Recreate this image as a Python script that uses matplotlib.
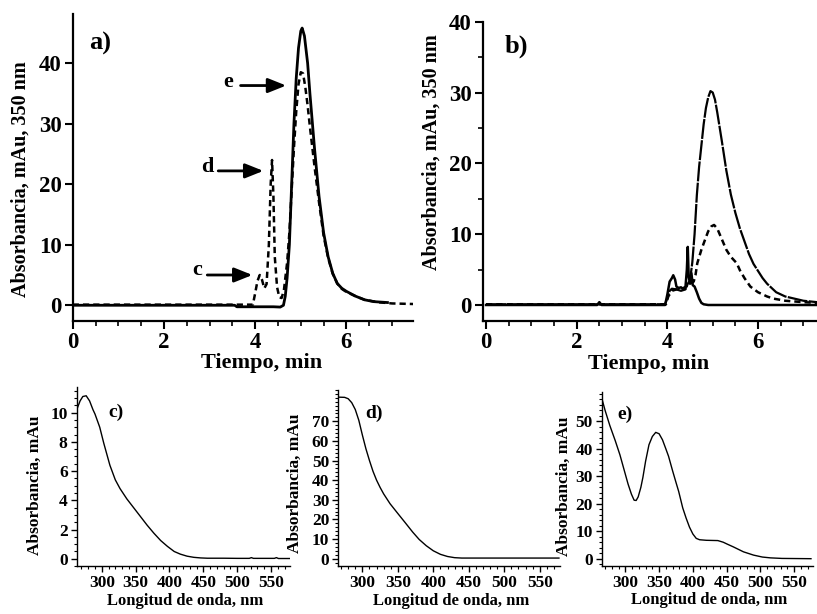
import matplotlib
matplotlib.use("Agg")
import matplotlib.pyplot as plt
from matplotlib.ticker import MultipleLocator


# panel a) cromatograma, 350 nm
a_solido_t = [0, 3.55, 3.6, 4.4, 4.55, 4.62, 4.66, 4.7, 4.75, 4.8, 4.85, 4.9, 4.95, 5.0,
              5.03, 5.08, 5.15, 5.2, 5.3, 5.4, 5.5, 5.6, 5.7, 5.8, 5.9, 6.0, 6.2, 6.4, 6.6, 6.9]
a_solido_y = [0, 0, -0.25, -0.25, -0.3, 0.0, 1.5, 4.5, 10, 20, 30, 37.5, 42.5, 45.3,
              45.8, 44.5, 40, 35, 26, 18, 12, 8, 5.3, 3.6, 2.8, 2.3, 1.5, 0.9, 0.6, 0.45]
a_trazos_t = [0, 3.95, 4.0, 4.05, 4.1, 4.15, 4.2, 4.25, 4.3, 4.34, 4.37, 4.4, 4.43, 4.48,
              4.53, 4.58, 4.63, 4.7, 4.75, 4.8, 4.85, 4.9, 4.95, 5.0, 5.05, 5.1, 5.15, 5.2,
              5.3, 5.4, 5.5, 5.6, 5.7, 5.8, 5.9, 6.0, 6.2, 6.4, 6.7, 7.0, 7.5]
a_trazos_y = [0.1, 0.1, 2, 4, 5.0, 4.2, 2.8, 3.5, 10, 20, 24, 18, 8, 3,
              1.3, 1.2, 2.5, 7, 12, 19, 26, 32, 36.5, 38.5, 38.3, 36, 33, 29.5,
              23, 17, 11.5, 7.8, 5.2, 3.6, 2.7, 2.2, 1.5, 0.9, 0.5, 0.3, 0.2]

# panel b)
b_solido_t = [0, 2.45, 2.5, 2.55, 3.95, 4.0, 4.05, 4.1, 4.13, 4.17, 4.2, 4.25, 4.3, 4.35,
              4.4, 4.43, 4.45, 4.47, 4.5, 4.53, 4.56, 4.6, 4.65, 4.7, 4.75, 4.8, 4.9, 7.3]
b_solido_y = [0, 0, 0.4, 0, 0, 1.5, 3.3, 3.8, 4.2, 3.6, 2.6, 2.4, 2.5, 2.2,
              2.6, 5, 8.2, 4, 3, 4.5, 2.8, 2.6, 1.8, 0.9, 0.3, 0.1, 0, 0]
b_largo_t = [0, 3.95, 4.0, 4.05, 4.1, 4.2, 4.3, 4.4, 4.45, 4.5, 4.55, 4.6, 4.65, 4.7,
             4.75, 4.8, 4.85, 4.9, 4.95, 5.0, 5.05, 5.1, 5.2, 5.3, 5.4, 5.5, 5.6, 5.7,
             5.8, 5.9, 6.0, 6.1, 6.2, 6.3, 6.4, 6.6, 6.8, 7.0, 7.3]
b_largo_y = [0.1, 0.1, 1.0, 2.0, 2.3, 2.2, 2.0, 2.2, 3, 3.5, 6, 10, 15.5, 19.5,
             22.5, 25.5, 27.8, 29.3, 30.2, 30.0, 29.0, 27.2, 23.2, 19.0, 15.6, 13.0, 10.8, 9.0,
             7.2, 5.8, 4.8, 3.8, 3.0, 2.4, 1.8, 1.2, 0.9, 0.6, 0.4]
b_trazos_t = [0, 3.97, 4.02, 4.1, 4.2, 4.3, 4.4, 4.5, 4.58, 4.62, 4.66, 4.75, 4.83, 4.9,
              4.97, 5.03, 5.1, 5.2, 5.3, 5.4, 5.53, 5.6, 5.7, 5.83, 6.0, 6.2, 6.34, 6.6, 7.0, 7.3]
b_trazos_y = [0.1, 0.1, 1.2, 2.0, 2.2, 2.3, 2.5, 3.0, 3.3, 4.2, 5.9, 7.8, 9.2, 10.4,
              11.1, 11.3, 10.8, 9.3, 7.8, 6.8, 5.9, 4.9, 3.8, 2.6, 1.8, 1.2, 0.9, 0.6, 0.4, 0.3]

# espectros c), d), e)
c_nm = [263, 268, 272, 277, 282, 287, 290, 297, 303, 312, 320, 327, 337, 347, 357, 367,
        377, 387, 397, 407, 416, 426, 436, 446, 456, 480, 500, 518, 521, 524, 555, 558, 561, 580]
c_abs = [10.2, 10.8, 11.1, 11.15, 10.8, 10.2, 9.9, 9.0, 7.9, 6.4, 5.4, 4.8, 4.1, 3.5, 2.9, 2.3,
         1.75, 1.25, 0.85, 0.5, 0.32, 0.18, 0.1, 0.06, 0.04, 0.04, 0.03, 0.03, 0.08, 0.03, 0.03, 0.08, 0.02, 0.02]
d_nm = [266, 275, 280, 285, 290, 295, 300, 305, 310, 315, 320, 325, 330, 339, 350, 360,
        371, 380, 390, 400, 410, 420, 430, 440, 460, 577]
d_abs = [82.3, 82.2, 81.5, 79.5, 76, 70.5, 63, 56, 50, 44.5, 40, 36.3, 33, 28, 23, 18.5,
         13.5, 9.8, 6.6, 4.0, 2.2, 1.1, 0.5, 0.3, 0.3, 0.3]
e_nm = [265, 270, 277, 285, 292, 298, 304, 309, 313, 316, 319, 323, 326, 330, 335, 340, 345,
        350, 355, 360, 364, 370, 375, 379, 385, 390, 395, 400, 405, 410, 420, 437, 445, 451,
        460, 475, 490, 503, 515, 532, 575]
e_abs = [58.5, 54, 48.5, 43, 37.8, 32.5, 27.2, 23.5, 21.3, 21.2, 22.5, 26, 29.6, 35.5, 41.5,
         44.5, 46.0, 45.5, 43.3, 40, 37.3, 32, 27.8, 24.5, 18.5, 14.8, 11.5, 9.0, 7.4, 6.9,
         6.7, 6.6, 6.0, 5.3, 4.3, 2.5, 1.3, 0.6, 0.3, 0.1, 0.0]

# marcas con etiqueta en los espectros
c_ticks_y = [0, 2, 4, 6, 8, 10]
d_ticks_y = [0, 10, 20, 30, 40, 50, 60, 70]
e_ticks_y = [0, 10, 20, 30, 40, 50]
espectro_ticks_x = [300, 350, 400, 450, 500, 550]

# flechas del panel a): letra, posicion del texto, cola y punta
flechas_letras = ["e", "d", "c"]
flechas_texto = [(3.40, 36.9), (2.94, 22.9), (2.72, 5.9)]
flechas_cola = [(3.68, 36.3), (3.19, 22.2), (2.95, 5.0)]
flechas_punta = [(4.68, 36.3), (4.18, 22.2), (3.94, 5.0)]


plt.rcParams["font.family"] = ["Liberation Serif", "DejaVu Serif"]
plt.rcParams["font.weight"] = "bold"
plt.rcParams["axes.labelweight"] = "bold"


def _ejes(ax, lw):
    for lado in ("top", "right"):
        ax.spines[lado].set_visible(False)
    for lado in ("left", "bottom"):
        ax.spines[lado].set_linewidth(lw)


def panel_cromatograma(fig, pos):
    ax = fig.add_axes(pos)
    _ejes(ax, 1.6)
    ax.tick_params(which="major", length=6, width=1.5, labelsize=16.5, pad=2)
    ax.tick_params(which="minor", length=3.5, width=1.2)
    ax.xaxis.set_major_locator(MultipleLocator(2))
    ax.xaxis.set_minor_locator(MultipleLocator(0.5))
    ax.yaxis.set_major_locator(MultipleLocator(10))
    ax.set_xlabel("Tiempo, min", fontsize=16)
    ax.set_ylabel("Absorbancia, mAu, 350 nm", fontsize=14.5)
    return ax


def panel_espectro(fig, pos, nm, absorb, ylim, ticks_y, menor, letra, letra_pos, lab_y):
    ax = fig.add_axes(pos)
    _ejes(ax, 1.0)
    ax.plot(nm, absorb, color="black", lw=1.0)
    ax.set_xlim(min(nm), 578)
    ax.set_ylim(*ylim)
    ax.set_xticks(espectro_ticks_x)
    ax.xaxis.set_minor_locator(MultipleLocator(10))
    ax.set_yticks(ticks_y)
    ax.yaxis.set_minor_locator(MultipleLocator(menor))
    ax.tick_params(which="major", length=4.5, width=1.0, labelsize=12.5, pad=2)
    ax.tick_params(which="minor", length=2.5, width=0.8)
    ax.set_xlabel("Longitud de onda, nm", fontsize=12)
    ax.set_ylabel("Absorbancia, mAu", fontsize=12.5)
    ax.yaxis.set_label_coords(lab_y[0], lab_y[1])
    ax.xaxis.set_label_coords(0.51, -0.15)
    ax.text(letra_pos[0], letra_pos[1], letra, fontsize=14, ha="center", va="center")
    return ax


fig = plt.figure(figsize=(8.17, 6.14), dpi=100)

# a)
ax_a = panel_cromatograma(fig, [0.089, 0.4772, 0.4165, 0.4998])
ax_a.plot(a_solido_t, a_solido_y, color="black", lw=2.0)
ax_a.plot(a_trazos_t, a_trazos_y, color="black", lw=1.8, dashes=(2.5, 1.6))
ax_a.set_xlim(0, 7.46)
ax_a.set_ylim(-2.6, 48.1)
ax_a.yaxis.set_label_coords(-0.125, 0.463)
ax_a.xaxis.set_label_coords(0.555, -0.105)
ax_a.text(0.6, 43.3, "a)", fontsize=19, ha="center", va="center")
for letra, txt, cola, punta in zip(flechas_letras, flechas_texto, flechas_cola, flechas_punta):
    ax_a.text(txt[0], txt[1], letra, fontsize=16, ha="center", va="center")
    ax_a.annotate("", xy=punta, xytext=cola,
                  arrowprops=dict(arrowstyle="-|>,head_length=0.55,head_width=0.22",
                                  mutation_scale=20, lw=2, color="black",
                                  shrinkA=0, shrinkB=0))

# b)
ax_b = panel_cromatograma(fig, [0.5908, 0.4772, 0.4092, 0.4875])
ax_b.plot(b_solido_t, b_solido_y, color="black", lw=1.8)
ax_b.plot(b_largo_t, b_largo_y, color="black", lw=1.6, dashes=(9, 0.6))
ax_b.plot(b_trazos_t, b_trazos_y, color="black", lw=1.8, dashes=(2.5, 1.6))
ax_b.set_xlim(-0.073, 7.3)
ax_b.set_ylim(-2.26, 40)
ax_b.yaxis.set_minor_locator(MultipleLocator(5))
ax_b.yaxis.set_label_coords(-0.123, 0.563)
ax_b.xaxis.set_label_coords(0.497, -0.11)
ax_b.text(0.68, 36.5, "b)", fontsize=19, ha="center", va="center")

# c), d), e)
panel_espectro(fig, [0.0939, 0.078, 0.261, 0.2917], c_nm, c_abs, (-0.5, 11.75), c_ticks_y, 0.5,
               "c)", (321, 10.0), (-0.157, 0.45))
panel_espectro(fig, [0.414, 0.078, 0.271, 0.287], d_nm, d_abs, (-3.8, 86), d_ticks_y, 2,
               "d)", (316, 73.8), (-0.158, 0.47))
panel_espectro(fig, [0.7365, 0.078, 0.2586, 0.284], e_nm, e_abs, (-2.7, 60.8), e_ticks_y, 2,
               "e)", (300, 52.6), (-0.142, 0.46))

fig.savefig("out.png", dpi=100)
